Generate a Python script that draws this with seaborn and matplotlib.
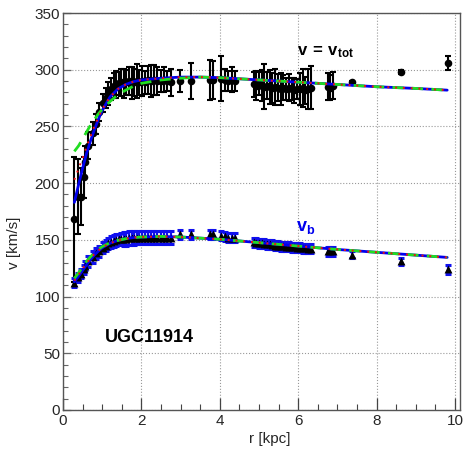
import matplotlib
matplotlib.use("Agg")
import matplotlib.pyplot as plt
import numpy as np
import pandas as pd
import seaborn as sns
from matplotlib.ticker import MultipleLocator

# measured radii (shared by both series)
r_obs = [0.29, 0.38, 0.45, 0.53, 0.57, 0.65, 0.76, 0.85, 0.92, 1.02,
         1.09, 1.15, 1.22, 1.29, 1.35, 1.42, 1.48, 1.55, 1.62, 1.68,
         1.75, 1.82, 1.88, 1.95, 2.02, 2.08, 2.17, 2.25, 2.32, 2.40,
         2.50, 2.58, 2.66, 2.75, 2.98, 3.27, 3.74, 3.83, 4.02, 4.12,
         4.22, 4.30, 4.38, 4.86, 4.93, 5.00, 5.07, 5.13, 5.20, 5.27,
         5.34, 5.41, 5.48, 5.55, 5.62, 5.69, 5.76, 5.83, 5.90, 5.97,
         6.04, 6.11, 6.18, 6.25, 6.32, 6.75, 6.82, 6.89, 7.37, 8.61, 9.82]

v_tot = [168, 188, 188, 205, 219, 233, 244, 252, 263, 271,
         275, 279, 283, 286, 287, 288, 289, 288, 289, 290,
         288, 289, 290, 289, 290, 289, 291, 290, 291, 290,
         290, 291, 290, 289, 290, 290, 291, 291, 292, 291,
         290, 291, 290, 287, 286, 288, 286, 285, 286, 285,
         284, 285, 284, 283, 284, 283, 284, 283, 282, 283,
         283, 284, 282, 283, 284, 285, 284, 286, 289, 298, 306]

e_tot = [55, 33, 25, 18, 14, 12, 10, 9, 8, 8,
         9, 10, 10, 11, 12, 10, 12, 13, 11, 12,
         14, 12, 15, 11, 13, 10, 12, 14, 13, 12,
         10, 11, 9, 12, 10, 16, 18, 17, 20, 10,
         9, 11, 9, 11, 13, 10, 14, 20, 12, 15,
         13, 16, 12, 14, 11, 10, 12, 10, 11, 9,
         14, 17, 12, 18, 19, 12, 11, 12, 1, 2, 6]

v_b = [112, 117, 120, 124, 127, 131, 135, 138, 140, 143,
       145, 147, 148, 149, 150, 150.5, 151, 151, 151, 151.5,
       151.5, 151.5, 152, 152, 152, 152, 152, 152, 152, 152,
       152, 152, 152, 152, 155, 155, 155, 155, 153.5, 153,
       152, 152, 152, 148, 147.5, 147, 147, 146.5, 146, 146,
       145.5, 145, 145, 144.5, 144.5, 144, 144, 143.5, 143.5, 143,
       143, 142.5, 142.5, 142, 142, 140, 140, 140, 137, 131, 124]

e_b = [4, 4, 4, 4, 4, 5, 5, 5, 5, 5,
       5, 5, 5, 5, 5, 5, 5, 6, 6, 6,
       6, 6, 6, 6, 6, 6, 6, 6, 6, 6,
       6, 6, 6, 6, 4, 4, 4, 4, 4, 4,
       4, 4, 4, 4, 4, 4, 4, 4, 4, 4,
       4, 4, 4, 4, 4, 4, 4, 4, 4, 4,
       4, 4, 4, 4, 4, 4, 4, 4, 3, 3, 4]

# model curves
r_mod = [0.29, 0.4, 0.5, 0.6, 0.7, 0.8, 0.9, 1.0, 1.2, 1.4, 1.6, 1.8,
         2.0, 2.5, 3.0, 3.5, 4.0, 5.0, 6.0, 7.0, 8.0, 9.0, 9.8]
tot_blue = [183, 199, 213, 226, 237, 247, 256, 264, 276, 283, 287, 289.5,
            291, 292.5, 293.5, 293.5, 293, 291, 289, 287, 285, 283.5, 282]
tot_green = [228, 233, 239, 245, 251, 256, 261, 265, 272, 278, 282, 285.5,
             288, 291, 292.5, 293.5, 293, 291, 289, 287, 285, 283.5, 282]
tot_red = [203, 213, 222, 232, 241, 250, 258, 265, 276, 283, 287, 289.5,
           291, 292.5, 293.5, 293.5, 293, 291, 289, 287, 285, 283.5, 282]
b_blue = [113, 118, 123, 128, 132.5, 136.5, 140, 143, 147, 149.5, 151, 152,
          152.5, 153, 152.5, 151.5, 150.5, 147.5, 144.5, 141.5, 139, 136.5, 134.5]
b_green = [116, 121, 126, 131, 135, 138.5, 141.5, 144, 147.5, 149.5, 151, 152,
           152.5, 153, 152.5, 151.5, 150.5, 147.5, 144.5, 141.5, 139, 136.5, 134.5]
b_red = [114, 119.5, 124.5, 129.5, 133.5, 137.5, 140.5, 143.5, 147, 149.5, 151, 152,
         152.5, 153, 152.5, 151.5, 150.5, 147.5, 144.5, 141.5, 139, 136.5, 134.5]

sns.set_theme(style="white")
plt.rcParams["font.family"] = ["Liberation Sans", "DejaVu Sans"]
plt.rcParams["mathtext.fontset"] = "custom"
plt.rcParams["mathtext.rm"] = "Liberation Sans"
plt.rcParams["mathtext.bf"] = "Liberation Sans:bold"

fig = plt.figure(figsize=(4.70, 4.49), dpi=100)
ax = fig.add_axes([0.134, 0.087, 0.845, 0.884])

ax.grid(True, linestyle=":", color="#999999", linewidth=0.8)
ax.set_axisbelow(True)

obs = pd.DataFrame({"r": r_obs, "v_tot": v_tot, "e_tot": e_tot, "v_b": v_b, "e_b": e_b})
mod = pd.DataFrame({"r": r_mod, "tot_blue": tot_blue, "tot_green": tot_green,
                    "tot_red": tot_red, "b_blue": b_blue, "b_green": b_green, "b_red": b_red})

# data: total velocity
ax.errorbar(obs["r"], obs["v_tot"], yerr=obs["e_tot"], fmt="none", ecolor="black",
            elinewidth=1.5, capsize=2.0, capthick=1.5, zorder=3)
sns.scatterplot(data=obs, x="r", y="v_tot", ax=ax, color="black", marker="o",
                s=30, edgecolor="black", linewidth=0, zorder=4)

# data: baryonic velocity
ax.errorbar(obs["r"], obs["v_b"], yerr=obs["e_b"], fmt="none", ecolor="#1010ee",
            elinewidth=1.6, capsize=2.5, capthick=2.2, zorder=3)
sns.scatterplot(data=obs, x="r", y="v_b", ax=ax, color="black", marker="^",
                s=32, edgecolor="black", linewidth=0, zorder=4)

# model curves
for col_b, col_g, col_r in [("tot_blue", "tot_green", "tot_red"), ("b_blue", "b_green", "b_red")]:
    sns.lineplot(data=mod, x="r", y=col_b, ax=ax, color="#0000ee", linewidth=2.0, zorder=5)
    sns.lineplot(data=mod, x="r", y=col_g, ax=ax, color="#22dd22", linewidth=2.0,
                 linestyle=(0, (4, 3)), zorder=6)
    sns.lineplot(data=mod, x="r", y=col_r, ax=ax, color="#ee1111", linewidth=1.4,
                 linestyle=(0, (1, 3)), zorder=7)

ax.text(5.97, 313, r"$\mathbf{v\,=\,v_{tot}}$", fontsize=12, color="black")
ax.text(5.95, 158, r"$\mathbf{v_{b}}$", fontsize=13, color="#0000ee")
ax.text(1.06, 64, "UGC11914", fontsize=13, fontweight="bold", color="black",
        va="center")

ax.set_xlim(0, 10.13)
ax.set_ylim(0, 350)
ax.xaxis.set_major_locator(MultipleLocator(2))
ax.xaxis.set_minor_locator(MultipleLocator(0.5))
ax.yaxis.set_major_locator(MultipleLocator(50))
ax.yaxis.set_minor_locator(MultipleLocator(10))
ax.tick_params(axis="x", which="major", direction="in", length=8.5, width=0.9,
               color="#444444", labelsize=11, pad=3, bottom=True)
ax.tick_params(axis="x", which="minor", direction="in", length=4.5, width=0.8,
               color="#444444", bottom=True)
ax.tick_params(axis="y", which="major", direction="in", length=5.5, width=0.9,
               color="#666666", labelsize=11, pad=2, left=True)
ax.tick_params(axis="y", which="minor", direction="in", length=3.5, width=0.8,
               color="#666666", left=True)
for side in ["left", "bottom", "top", "right"]:
    ax.spines[side].set_color("#555555")
    ax.spines[side].set_linewidth(1.0)

ax.set_xlabel("r [kpc]", fontsize=11)
ax.set_ylabel("v [km/s]", fontsize=11)
ax.xaxis.set_label_coords(0.52, -0.055)
ax.yaxis.set_label_coords(-0.105, 0.42)

fig.savefig("out.png", dpi=100)
